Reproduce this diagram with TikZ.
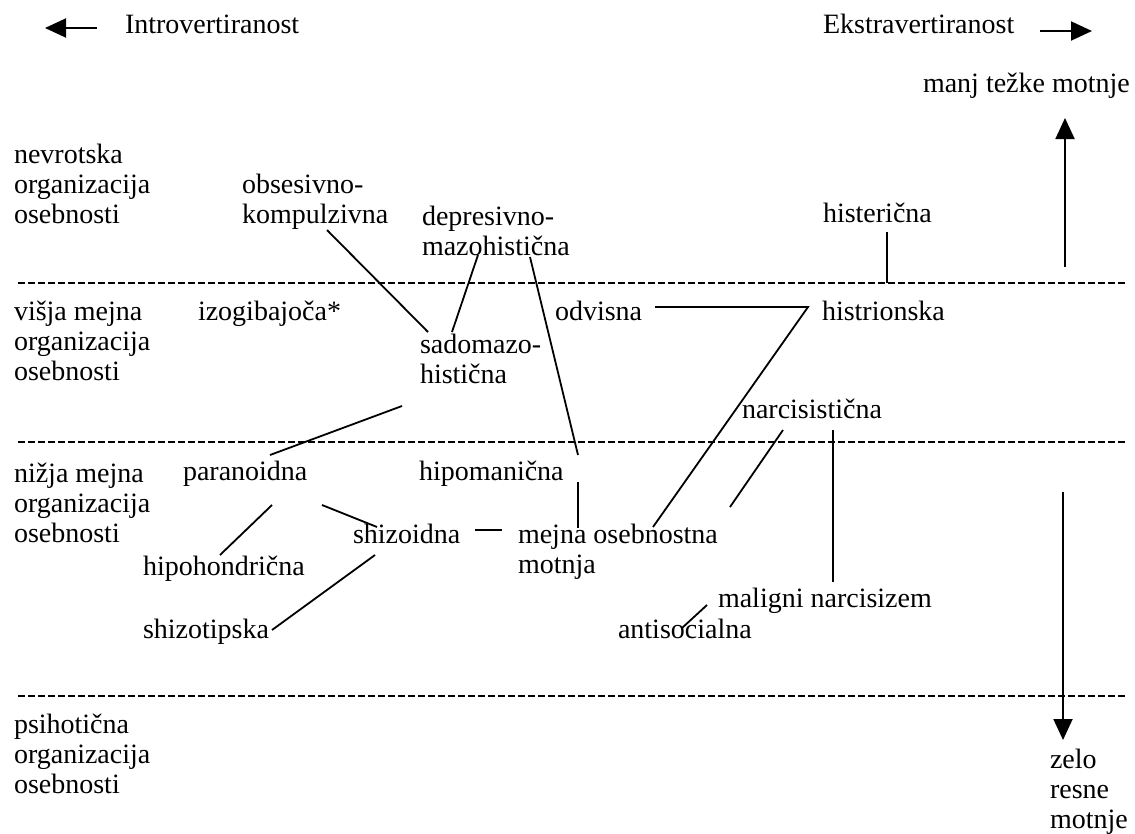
\documentclass[tikz,border=0pt]{standalone}
\usepackage{fontspec}
\setmainfont{Liberation Serif}
\usetikzlibrary{arrows.meta}
\begin{document}
\begin{tikzpicture}[x=1pt,y=-1pt,
  lbl/.style={inner sep=0pt,outer sep=0pt,anchor=base west,align=left,font=\fontsize{28}{30}\selectfont},
  conn/.style={line width=1.8pt},
  level/.style={line width=1.5pt,dash pattern=on 7pt off 3pt},
  bigarrow/.style={line width=1.9pt,-{Triangle[length=21pt,width=19pt]}}
]
\useasboundingbox (0,0) rectangle (1135,833);
% level separators
\draw[level] (18,283) -- (1128,283);
\draw[level] (18,442) -- (1128,442);
\draw[level] (18,696) -- (1128,696);
% labels (multi-line nodes are placed at the baseline of their last line)
\node[lbl] (intro) at (125,33) {Introvertiranost};
\node[lbl] (extra) at (823,33) {Ekstravertiranost};
\node[lbl] (manj) at (923,92) {manj težke motnje};
\node[lbl] (nevr) at (14,223) {nevrotska\\organizacija\\osebnosti};
\node[lbl] (obs) at (242,223) {obsesivno-\\kompulzivna};
\node[lbl] (dep) at (422,255) {depresivno-\\mazohistična};
\node[lbl] (hist) at (823,222) {histerična};
\node[lbl] (visja) at (14,380) {višja mejna\\organizacija\\osebnosti};
\node[lbl] (izo) at (198,320) {izogibajoča*};
\node[lbl] (sado) at (420,383) {sadomazo-\\histična};
\node[lbl] (odv) at (555,320) {odvisna};
\node[lbl] (histr) at (822,320) {histrionska};
\node[lbl] (narc) at (742,418) {narcisistična};
\node[lbl] (nizja) at (14,542) {nižja mejna\\organizacija\\osebnosti};
\node[lbl] (para) at (183,480) {paranoidna};
\node[lbl] (hipom) at (419,480) {hipomanična};
\node[lbl] (shizoid) at (353,543) {shizoidna};
\node[lbl] (mejna) at (518,573) {mejna osebnostna\\motnja};
\node[lbl] (hipoh) at (143,575) {hipohondrična};
\node[lbl] (shizot) at (143,638) {shizotipska};
\node[lbl] (malig) at (718,607) {maligni narcisizem};
\node[lbl] (anti) at (618,638) {antisocialna};
\node[lbl] (psih) at (14,793) {psihotična\\organizacija\\osebnosti};
\node[lbl] (zelo) at (1050,828) {zelo\\resne\\motnje};
% free ends
\coordinate (lefttip) at (45,28);
\coordinate (righttip) at (1092,31);
\coordinate (upstart) at (1065,267);
\coordinate (dnstart) at (1063,492);
\coordinate (histend) at (887,283);
% connectors
\draw[conn] ([shift={(85,7)}]obs.base west) -- ([shift={(8,-51)}]sado.base west);
\draw[conn] ([shift={(56,0)}]dep.base west) -- ([shift={(32,-51)}]sado.base west);
\draw[conn] ([shift={(108,2)}]dep.base west) -- ([shift={(159,-25)}]hipom.base west);
\draw[conn] ([shift={(159,2)}]hipom.base west) -- ([shift={(60,-45)}]mejna.base west);
\draw[conn] ([shift={(-18,23)}]sado.base west) -- ([shift={(87,-25)}]para.base west);
\draw[conn] ([shift={(89,25)}]para.base west) -- ([shift={(77,-20)}]hipoh.base west);
\draw[conn] ([shift={(139,25)}]para.base west) -- ([shift={(24,-16)}]shizoid.base west);
\draw[conn] ([shift={(22,12)}]shizoid.base west) -- ([shift={(129,-8)}]shizot.base west);
\draw[conn] ([shift={(122,-13)}]shizoid.base west) -- ([shift={(-16,-43)}]mejna.base west);
\draw[conn] ([shift={(100,-13)}]odv.base west) -- ([shift={(-14,-13)}]histr.base west) -- ([shift={(135,-46)}]mejna.base west);
\draw[conn] ([shift={(41,12)}]narc.base west) -- ([shift={(212,-66)}]mejna.base west);
\draw[conn] ([shift={(91,12)}]narc.base west) -- ([shift={(115,-25)}]malig.base west);
\draw[conn] ([shift={(64,-10)}]anti.base west) -- ([shift={(-11,-2)}]malig.base west);
\draw[conn] ([shift={(64,10)}]hist.base west) -- (histend);
% axis arrows
\draw[bigarrow] ([shift={(-28,-5)}]intro.base west) -- (lefttip);
\draw[bigarrow] ([shift={(217,-2)}]extra.base west) -- (righttip);
\draw[bigarrow] (upstart) -- ([shift={(142,26)}]manj.base west);
\draw[bigarrow] (dnstart) -- ([shift={(13,-88)}]zelo.base west);
\end{tikzpicture}
\end{document}
